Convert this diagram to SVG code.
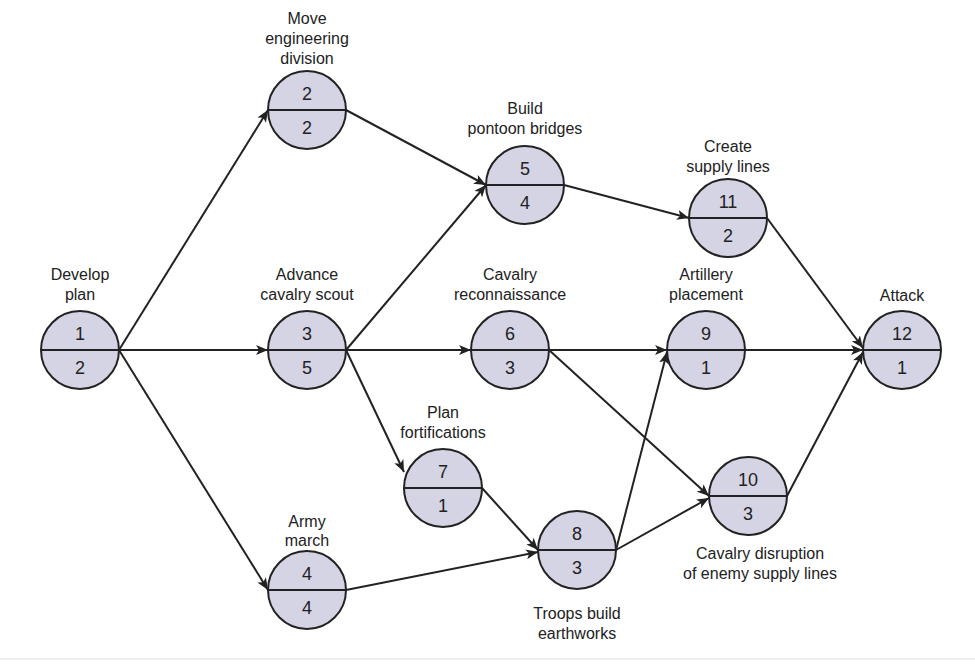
<svg xmlns="http://www.w3.org/2000/svg" width="975" height="665" viewBox="0 0 975 665">
<style>
text{font-family:"Liberation Sans",Arial,sans-serif;fill:#222;text-anchor:middle}
.l{font-size:16px}
.n{font-size:18px}
circle{fill:#d4d4e4;stroke:#222;stroke-width:2}
.d{stroke:#222;stroke-width:2}
#edges line{stroke:#222;stroke-width:2;marker-end:url(#a)}
</style>
<defs><marker id="a" viewBox="0 0 12 10" refX="12" refY="5" markerWidth="12" markerHeight="10" markerUnits="userSpaceOnUse" orient="auto"><path d="M0,0 L12,5 L0,10 L3,5 Z" fill="#222"/></marker></defs>
<rect width="975" height="665" fill="#fff"/>
<line x1="0" y1="659" x2="975" y2="659" stroke="#ddd" stroke-width="1"/>
<g id="edges">
<line x1="119" y1="350" x2="268" y2="110"/>
<line x1="119" y1="350" x2="268" y2="350"/>
<line x1="119" y1="350" x2="268" y2="590"/>
<line x1="346" y1="110" x2="486" y2="185"/>
<line x1="346" y1="350" x2="486" y2="185"/>
<line x1="346" y1="350" x2="471" y2="350"/>
<line x1="346" y1="350" x2="404" y2="472"/>
<line x1="346" y1="590" x2="538" y2="552"/>
<line x1="482" y1="488" x2="538" y2="550"/>
<line x1="564" y1="185" x2="689" y2="218"/>
<line x1="549" y1="350" x2="667" y2="350"/>
<line x1="549" y1="350" x2="709" y2="496"/>
<line x1="616" y1="550" x2="667" y2="352"/>
<line x1="616" y1="550" x2="709" y2="498"/>
<line x1="745" y1="350" x2="863" y2="350"/>
<line x1="767" y1="218" x2="863" y2="348"/>
<line x1="787" y1="496" x2="863" y2="352"/>
</g>
<g id="n1"><circle cx="80" cy="350" r="39"/><line class="d" x1="41" y1="350" x2="119" y2="350"/><text class="n" x="80" y="340">1</text><text class="n" x="80" y="374">2</text><text class="l" x="80" y="280">Develop</text><text class="l" x="80" y="300">plan</text></g>
<g id="n2"><circle cx="307" cy="110" r="39"/><line class="d" x1="268" y1="110" x2="346" y2="110"/><text class="n" x="307" y="100">2</text><text class="n" x="307" y="134">2</text><text class="l" x="307" y="24">Move</text><text class="l" x="307" y="44">engineering</text><text class="l" x="307" y="64">division</text></g>
<g id="n3"><circle cx="307" cy="350" r="39"/><line class="d" x1="268" y1="350" x2="346" y2="350"/><text class="n" x="307" y="340">3</text><text class="n" x="307" y="374">5</text><text class="l" x="307" y="280">Advance</text><text class="l" x="307" y="300">cavalry scout</text></g>
<g id="n4"><circle cx="307" cy="590" r="39"/><line class="d" x1="268" y1="590" x2="346" y2="590"/><text class="n" x="307" y="580">4</text><text class="n" x="307" y="614">4</text><text class="l" x="307" y="527">Army</text><text class="l" x="307" y="546">march</text></g>
<g id="n5"><circle cx="525" cy="185" r="39"/><line class="d" x1="486" y1="185" x2="564" y2="185"/><text class="n" x="525" y="175">5</text><text class="n" x="525" y="209">4</text><text class="l" x="525" y="114">Build</text><text class="l" x="525" y="134">pontoon bridges</text></g>
<g id="n6"><circle cx="510" cy="350" r="39"/><line class="d" x1="471" y1="350" x2="549" y2="350"/><text class="n" x="510" y="340">6</text><text class="n" x="510" y="374">3</text><text class="l" x="510" y="280">Cavalry</text><text class="l" x="510" y="300">reconnaissance</text></g>
<g id="n7"><circle cx="443" cy="488" r="39"/><line class="d" x1="404" y1="488" x2="482" y2="488"/><text class="n" x="443" y="478">7</text><text class="n" x="443" y="512">1</text><text class="l" x="443" y="418">Plan</text><text class="l" x="443" y="438">fortifications</text></g>
<g id="n8"><circle cx="577" cy="550" r="39"/><line class="d" x1="538" y1="550" x2="616" y2="550"/><text class="n" x="577" y="540">8</text><text class="n" x="577" y="574">3</text><text class="l" x="577" y="619">Troops build</text><text class="l" x="577" y="639">earthworks</text></g>
<g id="n9"><circle cx="706" cy="350" r="39"/><line class="d" x1="667" y1="350" x2="745" y2="350"/><text class="n" x="706" y="340">9</text><text class="n" x="706" y="374">1</text><text class="l" x="706" y="280">Artillery</text><text class="l" x="706" y="300">placement</text></g>
<g id="n10"><circle cx="748" cy="496" r="39"/><line class="d" x1="709" y1="496" x2="787" y2="496"/><text class="n" x="748" y="486">10</text><text class="n" x="748" y="520">3</text><text class="l" x="760" y="559">Cavalry disruption</text><text class="l" x="760" y="579">of enemy supply lines</text></g>
<g id="n11"><circle cx="728" cy="218" r="39"/><line class="d" x1="689" y1="218" x2="767" y2="218"/><text class="n" x="728" y="208">11</text><text class="n" x="728" y="242">2</text><text class="l" x="728" y="152">Create</text><text class="l" x="728" y="172">supply lines</text></g>
<g id="n12"><circle cx="902" cy="350" r="39"/><line class="d" x1="863" y1="350" x2="941" y2="350"/><text class="n" x="902" y="340">12</text><text class="n" x="902" y="374">1</text><text class="l" x="902" y="301">Attack</text></g>
</svg>
